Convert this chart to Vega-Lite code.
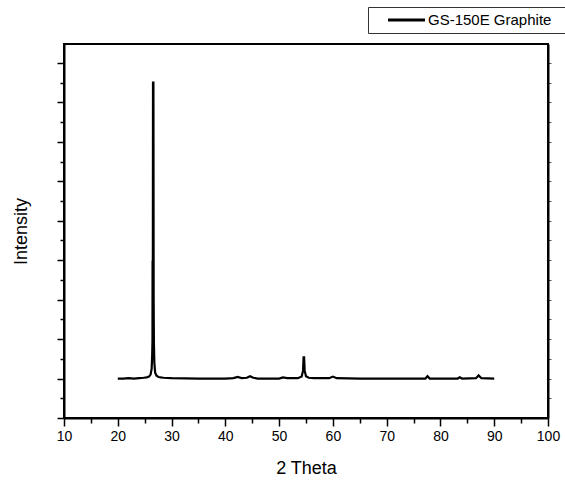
{
  "$schema": "https://vega.github.io/schema/vega-lite/v6.json",
  "width": 484,
  "height": 374,
  "autosize": {"type": "none"},
  "padding": {"left": 64, "top": 44, "right": 17, "bottom": 62},
  "background": "#ffffff",
  "config": {
    "view": {"stroke": "#000000", "strokeWidth": 2},
    "font": "Liberation Sans",
    "axis": {"grid": false, "labelFont": "Liberation Sans", "titleFont": "Liberation Sans", "labelColor": "#000000", "titleColor": "#000000", "tickColor": "#000000", "domainColor": "#000000"}
  },
  "data": {
    "values": [
      {"theta": 20.0, "intensity": 1.00, "series": "GS-150E Graphite"},
      {"theta": 21.0, "intensity": 1.00, "series": "GS-150E Graphite"},
      {"theta": 22.0, "intensity": 1.01, "series": "GS-150E Graphite"},
      {"theta": 23.0, "intensity": 1.00, "series": "GS-150E Graphite"},
      {"theta": 24.0, "intensity": 1.01, "series": "GS-150E Graphite"},
      {"theta": 24.8, "intensity": 1.02, "series": "GS-150E Graphite"},
      {"theta": 25.4, "intensity": 1.03, "series": "GS-150E Graphite"},
      {"theta": 25.8, "intensity": 1.05, "series": "GS-150E Graphite"},
      {"theta": 26.1, "intensity": 1.10, "series": "GS-150E Graphite"},
      {"theta": 26.3, "intensity": 1.25, "series": "GS-150E Graphite"},
      {"theta": 26.4, "intensity": 1.6, "series": "GS-150E Graphite"},
      {"theta": 26.45, "intensity": 1.95, "series": "GS-150E Graphite"},
      {"theta": 26.47, "intensity": 3.96, "series": "GS-150E Graphite"},
      {"theta": 26.52, "intensity": 3.96, "series": "GS-150E Graphite"},
      {"theta": 26.55, "intensity": 8.5, "series": "GS-150E Graphite"},
      {"theta": 26.63, "intensity": 8.5, "series": "GS-150E Graphite"},
      {"theta": 26.67, "intensity": 3.0, "series": "GS-150E Graphite"},
      {"theta": 26.72, "intensity": 1.9, "series": "GS-150E Graphite"},
      {"theta": 26.8, "intensity": 1.4, "series": "GS-150E Graphite"},
      {"theta": 26.95, "intensity": 1.15, "series": "GS-150E Graphite"},
      {"theta": 27.2, "intensity": 1.07, "series": "GS-150E Graphite"},
      {"theta": 27.6, "intensity": 1.04, "series": "GS-150E Graphite"},
      {"theta": 28.0, "intensity": 1.03, "series": "GS-150E Graphite"},
      {"theta": 28.5, "intensity": 1.02, "series": "GS-150E Graphite"},
      {"theta": 30.0, "intensity": 1.01, "series": "GS-150E Graphite"},
      {"theta": 35.0, "intensity": 1.00, "series": "GS-150E Graphite"},
      {"theta": 40.0, "intensity": 1.00, "series": "GS-150E Graphite"},
      {"theta": 41.5, "intensity": 1.01, "series": "GS-150E Graphite"},
      {"theta": 42.3, "intensity": 1.04, "series": "GS-150E Graphite"},
      {"theta": 43.0, "intensity": 1.01, "series": "GS-150E Graphite"},
      {"theta": 44.0, "intensity": 1.02, "series": "GS-150E Graphite"},
      {"theta": 44.6, "intensity": 1.06, "series": "GS-150E Graphite"},
      {"theta": 45.2, "intensity": 1.02, "series": "GS-150E Graphite"},
      {"theta": 46.0, "intensity": 1.00, "series": "GS-150E Graphite"},
      {"theta": 50.0, "intensity": 1.00, "series": "GS-150E Graphite"},
      {"theta": 50.7, "intensity": 1.03, "series": "GS-150E Graphite"},
      {"theta": 51.5, "intensity": 1.01, "series": "GS-150E Graphite"},
      {"theta": 53.5, "intensity": 1.01, "series": "GS-150E Graphite"},
      {"theta": 54.2, "intensity": 1.05, "series": "GS-150E Graphite"},
      {"theta": 54.45, "intensity": 1.2, "series": "GS-150E Graphite"},
      {"theta": 54.55, "intensity": 1.54, "series": "GS-150E Graphite"},
      {"theta": 54.65, "intensity": 1.54, "series": "GS-150E Graphite"},
      {"theta": 54.75, "intensity": 1.2, "series": "GS-150E Graphite"},
      {"theta": 55.0, "intensity": 1.06, "series": "GS-150E Graphite"},
      {"theta": 55.5, "intensity": 1.02, "series": "GS-150E Graphite"},
      {"theta": 56.5, "intensity": 1.01, "series": "GS-150E Graphite"},
      {"theta": 59.3, "intensity": 1.01, "series": "GS-150E Graphite"},
      {"theta": 60.0, "intensity": 1.05, "series": "GS-150E Graphite"},
      {"theta": 60.7, "intensity": 1.01, "series": "GS-150E Graphite"},
      {"theta": 65.0, "intensity": 1.00, "series": "GS-150E Graphite"},
      {"theta": 70.0, "intensity": 1.00, "series": "GS-150E Graphite"},
      {"theta": 77.2, "intensity": 1.00, "series": "GS-150E Graphite"},
      {"theta": 77.6, "intensity": 1.06, "series": "GS-150E Graphite"},
      {"theta": 78.0, "intensity": 1.00, "series": "GS-150E Graphite"},
      {"theta": 83.2, "intensity": 1.00, "series": "GS-150E Graphite"},
      {"theta": 83.6, "intensity": 1.03, "series": "GS-150E Graphite"},
      {"theta": 84.0, "intensity": 1.00, "series": "GS-150E Graphite"},
      {"theta": 86.6, "intensity": 1.01, "series": "GS-150E Graphite"},
      {"theta": 87.1, "intensity": 1.08, "series": "GS-150E Graphite"},
      {"theta": 87.6, "intensity": 1.01, "series": "GS-150E Graphite"},
      {"theta": 90.0, "intensity": 1.00, "series": "GS-150E Graphite"}
    ]
  },
  "layer": [
    {
      "mark": {"type": "line", "strokeWidth": 2.2, "interpolate": "linear"},
      "encoding": {
        "x": {
          "field": "theta", "type": "quantitative",
          "scale": {"domain": [10, 100], "nice": false, "zero": false},
          "axis": {
            "orient": "bottom",
            "values": [10, 20, 30, 40, 50, 60, 70, 80, 90, 100],
            "tickSize": 8, "tickWidth": 1.5, "domainWidth": 2,
            "labelFontSize": 14, "labelPadding": 3, "labelFlush": false, "labelOverlap": false,
            "title": "2 Theta", "titleFontSize": 18, "titleFontWeight": "normal", "titlePadding": 16
          }
        },
        "y": {
          "field": "intensity", "type": "quantitative",
          "scale": {"domain": [0, 9.48], "nice": false, "zero": false},
          "axis": {
            "orient": "left",
            "values": [0, 1, 2, 3, 4, 5, 6, 7, 8, 9],
            "labels": false,
            "tickSize": 7, "tickWidth": 1.5, "domainWidth": 2,
            "title": "Intensity", "titleFontSize": 18, "titleFontWeight": "normal", "titlePadding": 26
          }
        },
        "color": {
          "field": "series", "type": "nominal",
          "scale": {"range": ["#000000"]},
          "legend": {
            "orient": "none", "legendX": 304, "legendY": -37,
            "title": " ", "titleOrient": "right", "titlePadding": 20, "titleFontSize": 14,
            "symbolType": "M-3,0H3", "symbolSize": 152, "symbolStrokeWidth": 3, "symbolStrokeColor": "#000000",
            "symbolOffset": 25.5,
            "labelFontSize": 15, "labelFont": "Liberation Sans", "labelColor": "#000000", "labelOffset": 13.5,
            "padding": 5, "strokeColor": "#333333", "fillColor": "#ffffff"
          }
        }
      }
    },
    {
      "mark": {"type": "point", "opacity": 0},
      "encoding": {
        "x": {
          "field": "theta", "type": "quantitative",
          "axis": {
            "orient": "bottom",
            "values": [15, 25, 35, 45, 55, 65, 75, 85, 95],
            "labels": false, "domain": false, "title": null,
            "tickSize": 5, "tickWidth": 1.5
          }
        },
        "y": {
          "field": "intensity", "type": "quantitative",
          "axis": {
            "orient": "left",
            "values": [0.5, 1.5, 2.5, 3.5, 4.5, 5.5, 6.5, 7.5, 8.5],
            "labels": false, "domain": false, "title": null,
            "tickSize": 4, "tickWidth": 1.5
          }
        }
      }
    },
    {
      "mark": {"type": "point", "opacity": 0},
      "encoding": {
        "x": {"field": "theta", "type": "quantitative", "axis": null},
        "y": {
          "field": "intensity", "type": "quantitative",
          "axis": {
            "orient": "right",
            "values": [0.5, 1, 1.5, 2, 2.5, 3, 3.5, 4, 4.5, 5, 5.5, 6, 6.5, 7, 7.5, 8, 8.5, 9],
            "labels": false, "title": null,
            "tickSize": 3, "tickWidth": 1, "tickColor": "#555555", "domainWidth": 2
          }
        }
      }
    }
  ],
  "resolve": {
    "scale": {"x": "shared", "y": "shared"},
    "axis": {"x": "independent", "y": "independent"}
  }
}
